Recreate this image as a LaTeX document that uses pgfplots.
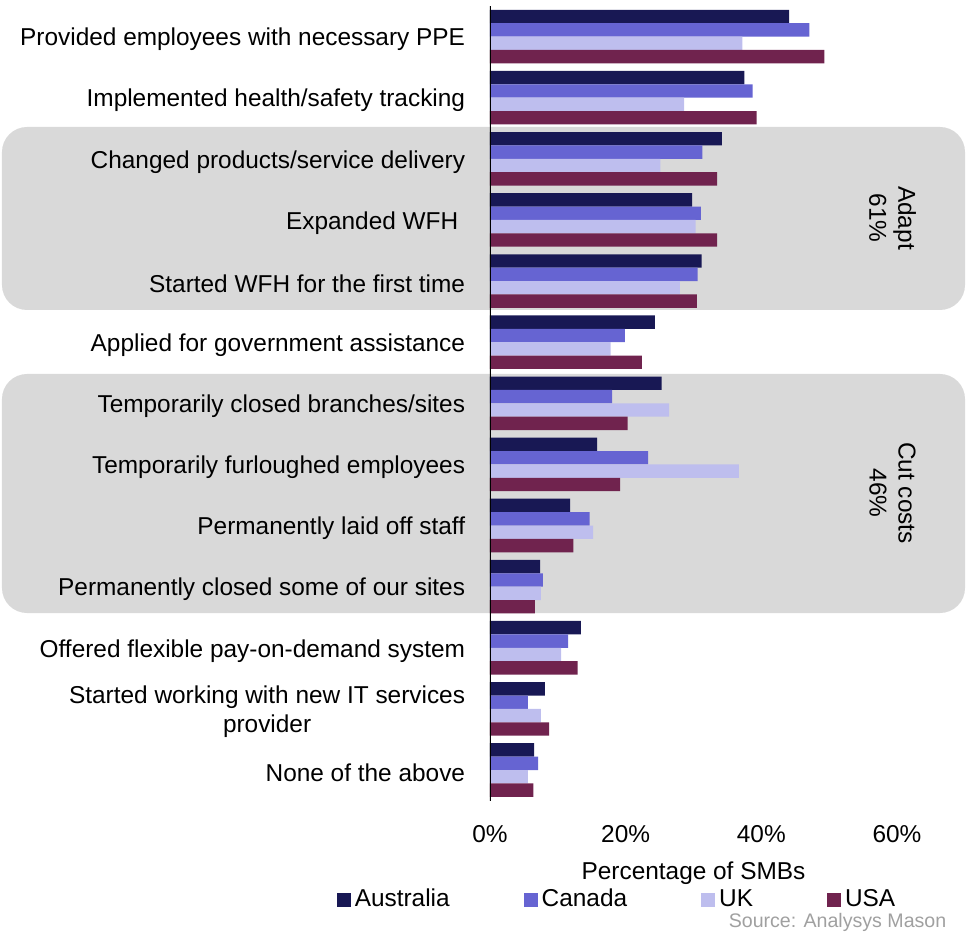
\documentclass[border=0pt]{standalone}
\usepackage{pgfplots}
\pgfplotsset{compat=1.18}
\usepackage{pgfplotstable}
\usepackage{fontspec}
\setmainfont{Liberation Sans}
\definecolor{aus}{HTML}{181854}
\definecolor{can}{HTML}{6664D2}
\definecolor{uk}{HTML}{BEBEEE}
\definecolor{usa}{HTML}{70234E}
\definecolor{boxgray}{HTML}{D9D9D9}
\definecolor{srcgray}{HTML}{A0A0A0}

\pgfplotstableread{
cat aus can uk usa
12 44.1 47.1 37.2 49.3
11 37.5 38.7 28.6 39.3
10 34.2 31.3 25.1 33.5
9 29.8 31.1 30.3 33.5
8 31.2 30.6 28.0 30.5
7 24.3 19.9 17.8 22.4
6 25.3 18.0 26.4 20.3
5 15.8 23.3 36.7 19.2
4 11.8 14.7 15.2 12.3
3 7.4 7.8 7.5 6.6
2 13.4 11.5 10.5 12.9
1 8.1 5.6 7.5 8.7
0 6.5 7.1 5.6 6.4
}\datatable

\begin{document}
\fontsize{12.2}{14.5}\selectfont
\begin{tikzpicture}
\useasboundingbox (-245pt,-65.7pt) rectangle (238.5pt,400.3pt);
\fill[boxgray, rounded corners=12.5pt] (-244pt,245.3pt) rectangle (237.5pt,336.8pt);
\fill[boxgray, rounded corners=12.5pt] (-244pt,93.8pt) rectangle (237.5pt,213.3pt);
\node[rotate=-90, align=center, font=\fontsize{12.2}{14.5}\selectfont] at (201.25pt,291.3pt) {Adapt\\61\%};
\node[rotate=-90, align=center, font=\fontsize{12.2}{14.5}\selectfont] at (201.25pt,153.8pt) {Cut costs\\46\%};
\begin{axis}[
  at={(0pt,0pt)}, anchor=south west,
  scale only axis, width=203.5pt, height=397.3pt,
  xmin=0, xmax=60, ymin=-0.5, ymax=12.5,
  xbar, bar width=6.7pt,
  axis line style={draw=none},
  major tick length=0pt,
  xtick={0,20,40,60},
  xticklabels={0\%,20\%,40\%,60\%},
  ytick={0,...,12},
  yticklabels={None of the above,{Started working with new IT services\\provider},Offered flexible pay-on-demand system,Permanently closed some of our sites,Permanently laid off staff,Temporarily furloughed employees,Temporarily closed branches/sites,Applied for government assistance,Started WFH for the first time,Expanded WFH~,Changed products/service delivery,Implemented health/safety tracking,Provided employees with necessary PPE},
  yticklabel style={align=center, font=\fontsize{12.2}{14.5}\selectfont, xshift=-8.2pt, yshift=-1.5pt},
  xticklabel style={font=\fontsize{12.2}{14.5}\selectfont, yshift=-8pt},
  xlabel={Percentage of SMBs},
  xlabel style={at={(axis description cs:0.5,0)}, anchor=center, yshift=-36.2pt, font=\fontsize{12.2}{14.5}\selectfont},
  legend style={at={(axis description cs:0.3145,-0.125)}, anchor=center, draw=none, fill=none,
    legend columns=4, font=\fontsize{12.2}{14.5}\selectfont,
    /tikz/every even column/.append style={column sep=35pt}},
  legend image code/.code={\fill[#1] (-1.2pt,-3.5pt) rectangle (5.8pt,3.5pt);},
]
\addplot[draw=none, fill=aus, bar shift=10.05pt] table[x=aus, y=cat] {\datatable};
\addlegendentry{Australia}
\addplot[draw=none, fill=can, bar shift=3.35pt] table[x=can, y=cat] {\datatable};
\addlegendentry{Canada}
\addplot[draw=none, fill=uk, bar shift=-3.35pt] table[x=uk, y=cat] {\datatable};
\addlegendentry{UK}
\addplot[draw=none, fill=usa, bar shift=-10.05pt] table[x=usa, y=cat] {\datatable};
\addlegendentry{USA}
\draw[black, line width=1pt] (axis cs:0,-0.5) -- (axis cs:0,12.5);
\end{axis}
\node[anchor=east, inner sep=0pt, text=srcgray, font=\fontsize{9.8}{11}\selectfont] at (228.35pt,-60.7pt) {Source: Analysys Mason};
\end{tikzpicture}
\end{document}
